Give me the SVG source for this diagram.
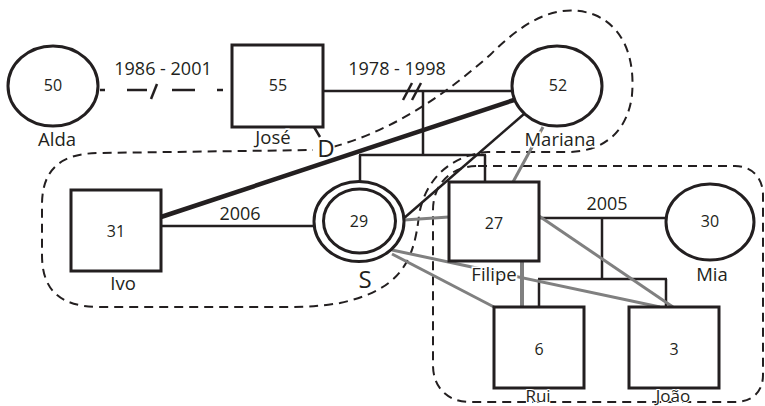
<svg xmlns="http://www.w3.org/2000/svg" width="765" height="406" viewBox="0 0 765 406">
<style>
.shape{fill:#fff;stroke:#231f20;stroke-width:3}
.ln{stroke:#231f20;stroke-width:2.5;fill:none}
.thick{stroke:#231f20;stroke-width:4.5;fill:none}
.gr{stroke:#808080;stroke-width:3;fill:none}
.gr4{stroke:#808080;stroke-width:4;fill:none}
.dash{stroke:#231f20;stroke-width:2;fill:none;stroke-dasharray:9 6}
.num{font-family:"Open Sans","Liberation Sans",sans-serif;font-size:16px;fill:#231f20;text-anchor:middle}
.lbl{font-family:"Open Sans","Liberation Sans",sans-serif;font-size:18.5px;fill:#231f20;text-anchor:middle;stroke:#fff;stroke-width:3;paint-order:stroke}
.big{font-size:24px}
.low{font-size:17px;stroke-width:2}
.yr{font-family:"Open Sans","Liberation Sans",sans-serif;font-size:18px;fill:#231f20;text-anchor:middle}
</style>
<rect width="765" height="406" fill="#fff"/>
<g id="outlines">
<path class="dash" d="M333,147 C400,128 450,90 490,55 C520,25 555,0 595,15 C625,28 635,60 632,95 C628,130 605,152 567,152 L488,152 C450,155 425,180 419,215 C414,262 400,290 340,303 C320,306 310,307 290,307 L100,307 C60,307 42,290 42,255 L42,205 C42,170 60,153 100,153 L313,150"/>
<path class="dash" d="M478,166 L735,166 C752,166 763,178 763,195 L763,375 C763,392 752,402 735,402 L470,402 C448,402 433,388 433,365 L433,210 C433,185 450,166 478,166 Z"/>
</g>
<g id="connectors">
<g class="ln">
<line x1="100" y1="90" x2="105" y2="90"/>
<line x1="127" y1="90" x2="147" y2="90"/>
<line x1="151" y1="99" x2="157" y2="84"/>
<line x1="172" y1="90" x2="195" y2="90"/>
<line x1="217" y1="90" x2="223" y2="90"/>
<line x1="323" y1="91" x2="512" y2="91"/>
<line x1="403" y1="100" x2="412" y2="83"/>
<line x1="412" y1="100" x2="421" y2="83"/>
<line x1="423" y1="91" x2="423" y2="155"/>
<line x1="359" y1="155" x2="486" y2="155"/>
<line x1="360" y1="155" x2="360" y2="181"/>
<line x1="485" y1="155" x2="485" y2="182"/>
<line x1="161" y1="226" x2="314" y2="226"/>
<line x1="524" y1="114" x2="403" y2="219"/>
<line x1="539" y1="218" x2="666" y2="218"/>
<line x1="602" y1="218" x2="602" y2="279"/>
<line x1="538" y1="279" x2="667" y2="279"/>
<line x1="539" y1="279" x2="539" y2="307"/>
<line x1="666" y1="279" x2="666" y2="307"/>
<line x1="314" y1="127" x2="320" y2="137"/>
</g>
<line class="thick" x1="161" y1="217" x2="514" y2="100"/>
<g class="gr">
<line x1="543" y1="127" x2="513" y2="182"/>
<line x1="404" y1="220" x2="449" y2="217"/>
<line x1="392" y1="250" x2="660" y2="307"/>
<line x1="392" y1="254" x2="494" y2="307"/>
<line x1="539" y1="216" x2="673" y2="307"/>
</g>
<line class="gr4" x1="522" y1="261" x2="522" y2="307"/>
<text class="yr" x="163" y="75">1986 - 2001</text>
<text class="yr" x="397" y="75">1978 - 1998</text>
<text class="yr" x="240" y="220">2006</text>
<text class="yr" x="607" y="210">2005</text>
<text class="lbl big" x="326" y="157">D</text>
</g>
<g id="alda">
<ellipse class="shape" cx="53" cy="86" rx="45" ry="40"/>
<text class="num" x="53" y="91">50</text>
<text class="lbl" x="57" y="146">Alda</text>
</g>
<g id="jose">
<rect class="shape" x="232" y="45" width="91" height="82"/>
<text class="num" x="278" y="91">55</text>
<text class="lbl" x="273" y="144">José</text>
</g>
<g id="mariana">
<ellipse class="shape" cx="557" cy="86" rx="45" ry="40"/>
<text class="num" x="558" y="91">52</text>
<text class="lbl" x="560" y="146">Mariana</text>
</g>
<g id="ivo">
<rect class="shape" x="71" y="190" width="90" height="81"/>
<text class="num" x="116" y="237">31</text>
<text class="lbl" x="123" y="290">Ivo</text>
</g>
<g id="s">
<ellipse class="shape" cx="359" cy="221.5" rx="45" ry="40"/>
<ellipse class="shape" cx="359.5" cy="221" rx="36" ry="32"/>
<text class="num" x="359" y="227">29</text>
<text class="lbl big" x="365" y="288">S</text>
</g>
<g id="filipe">
<rect class="shape" x="449" y="182" width="90" height="79"/>
<text class="num" x="494" y="229">27</text>
<text class="lbl" x="494" y="281">Filipe</text>
</g>
<g id="mia">
<ellipse class="shape" cx="710" cy="222" rx="44" ry="38"/>
<text class="num" x="710" y="227">30</text>
<text class="lbl" x="712" y="281">Mia</text>
</g>
<g id="rui">
<rect class="shape" x="494" y="307" width="90" height="81"/>
<text class="num" x="539" y="355">6</text>
<text class="lbl low" x="538" y="402">Rui</text>
</g>
<g id="joao">
<rect class="shape" x="629" y="307" width="90" height="81"/>
<text class="num" x="674" y="355">3</text>
<text class="lbl low" x="673" y="402">João</text>
</g>
</svg>
